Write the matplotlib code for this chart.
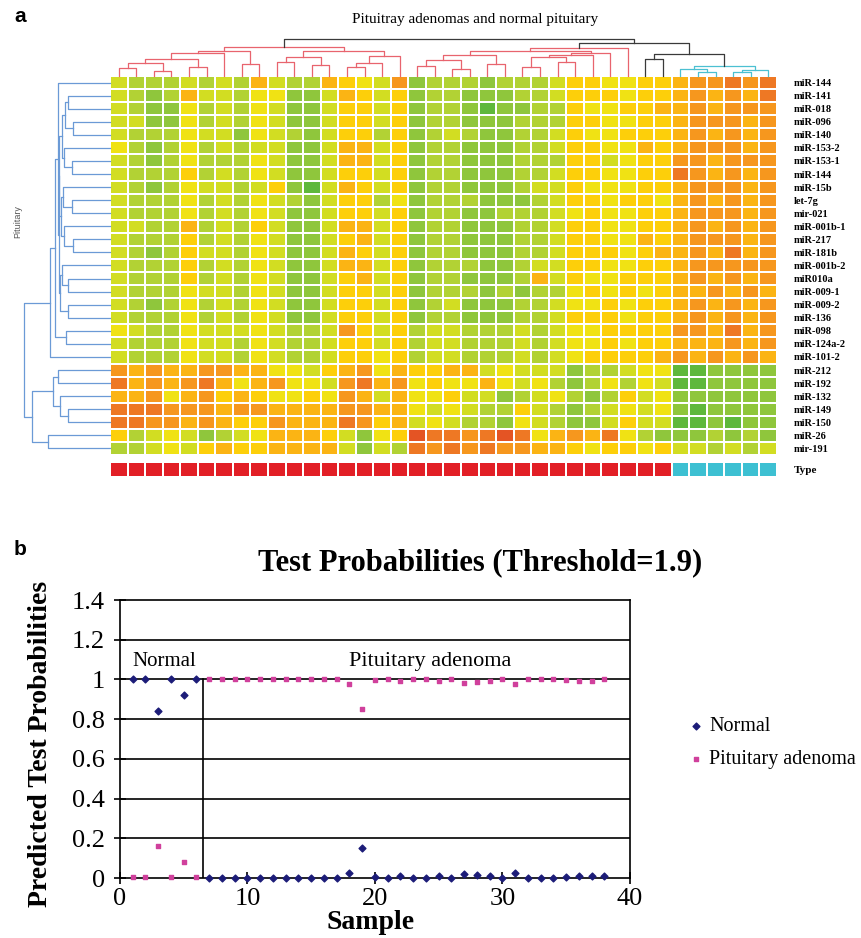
"""
Two-panel figure: miRNA heatmap with dendrograms (a) and
test probabilities scatter (b).
"""

import matplotlib
matplotlib.use("Agg")  # No display needed
import matplotlib.pyplot as plt
import numpy as np
from matplotlib.colors import ListedColormap

plt.rcParams["font.family"] = "serif"
plt.rcParams["font.serif"] = ["Liberation Serif", "DejaVu Serif"]

W, H = 862, 938

# Colors
HEAT_COLORS = ["#5fb83c", "#8fc63c", "#b2d234", "#d2dd22", "#f0e214",
               "#fdcf0a", "#fbb414", "#f6971e", "#ee7824", "#e45424"]
LINK_COLORS = {"r": "#e8646e", "k": "#3a3a3a", "c": "#4cc0d2", "b": "#6b9ad6"}
TYPE_COLORS = ["#e21f26", "#3dc0d2"]
NAVY = "#1c1c78"
PINK = "#d0409c"

# ---- panel a data ----
mirna_labels = [
    "miR-144", "miR-141", "miR-018", "miR-096", "miR-140", "miR-153-2",
    "miR-153-1", "miR-144", "miR-15b", "let-7g", "mir-021", "miR-001b-1",
    "miR-217", "miR-181b", "miR-001b-2", "miR010a", "miR-009-1",
    "miR-009-2", "miR-136", "miR-098", "miR-124a-2", "miR-101-2",
    "miR-212", "miR-192", "miR-132", "miR-149", "miR-150", "miR-26",
    "mir-191",
]

# expression level per cell, 0 = green ... 9 = red
heat_rows = [
    "3222323263 2265437122 2122235544 55677878",
    "3212633244 1136535122 1112235554 55676768",
    "3211423243 1135535122 1011225445 56676777",
    "3311423243 1135535122 1112225544 55677767",
    "3222433143 2135525123 2112235445 55676767",
    "4212423233 1136635122 1112235544 65677767",
    "3212422243 1136635122 1112225534 55776777",
    "3222523243 1135535122 1112235544 55876767",
    "3212433235 1036535122 1112335444 55677767",
    "3222423243 2135524122 2111235545 54676767",
    "3222423243 1135535122 1122234544 55677767",
    "3322623253 1136635122 1112235544 55676767",
    "3222523243 1135635122 1112235544 65677767",
    "3212533243 1136535122 1112235554 56676867",
    "3222523243 1136635122 2112335544 55677777",
    "3222523243 1135635122 1112635445 55676767",
    "3222433243 1135535122 2121224545 45667676",
    "3212423243 1135535123 1112234454 55676767",
    "3222423243 1135535122 1112235554 55676767",
    "4322433343 2237535233 2223234455 55776867",
    "3222433243 2235535233 2223234454 55666767",
    "3222433243 2235545233 2223234555 56767676",
    "7676677664 4356746556 6343331223 44001111",
    "8676786467 4437867454 4643421242 43001111",
    "6674675654 4547636445 3312342125 34111111",
    "8887776776 6667766434 3225321234 34101111",
    "8877676557 6668756343 2214321135 33001011",
    "5234312346 6653145988 7898467684 21112121",
    "2234356556 6663132878 7877665455 45332323",
]

# sample type: 0 = pituitary adenoma, 1 = normal pituitary
sample_type = [0] * 32 + [1] * 6

# column dendrogram: (left id, right id, height, color); new ids start at 38
col_links = [
    (0, 1, 8, "r"), (2, 3, 5, "r"), (38, 39, 13, "r"), (4, 5, 9, "r"),
    (40, 41, 17, "r"), (42, 6, 22, "r"), (7, 8, 12, "r"), (43, 44, 24, "r"),
    (9, 10, 14, "r"), (11, 12, 11, "r"), (46, 47, 18, "r"), (13, 14, 9, "r"),
    (49, 15, 13, "r"), (50, 16, 19, "r"), (48, 51, 24, "r"), (45, 52, 28, "r"),
    (17, 18, 10, "r"), (19, 20, 7, "r"), (54, 55, 16, "r"), (21, 22, 12, "r"),
    (56, 57, 20, "r"), (23, 24, 9, "r"), (25, 26, 14, "r"), (59, 60, 18, "r"),
    (61, 27, 20, "r"), (62, 28, 22, "r"), (58, 63, 24, "r"), (64, 29, 27, "r"),
    (30, 31, 17, "k"), (33, 34, 4, "c"), (32, 67, 7, "c"), (35, 36, 4, "c"),
    (69, 37, 6, "c"), (68, 70, 10, "c"), (66, 71, 21, "k"), (65, 72, 32, "k"),
    (53, 73, 36, "k"),
]

# row dendrogram: new ids start at 29
row_links = [
    (1, 2, 42), (3, 4, 37), (29, 30, 45), (6, 7, 38), (5, 32, 46),
    (31, 33, 48), (9, 10, 38), (8, 35, 47), (12, 13, 37), (11, 37, 46),
    (36, 38, 49), (34, 39, 50.5), (15, 16, 42), (14, 41, 48), (17, 18, 42),
    (42, 43, 50), (40, 44, 51), (0, 45, 52), (19, 20, 44), (46, 47, 55),
    (48, 21, 60), (22, 23, 52), (25, 26, 42), (24, 51, 50), (50, 52, 57),
    (27, 28, 62), (53, 54, 78), (49, 55, 86),
]

# ---- panel b data ----
samples = list(range(1, 39))
normal_prob = [1.0, 1.0, 0.84, 1.0, 0.92, 1.0,
               0, 0, 0, 0, 0, 0, 0, 0, 0, 0, 0,
               0.025, 0.15, 0.005, 0, 0.01, 0, 0, 0.01, 0, 0.02, 0.015,
               0.01, 0, 0.025, 0, 0, 0, 0.005, 0.01, 0.01, 0.01]
adenoma_prob = [0.005, 0.005, 0.16, 0.005, 0.08, 0.005,
                1, 1, 1, 1, 1, 1, 1, 1, 1, 1, 1,
                0.975, 0.85, 0.995, 1, 0.99, 1, 1, 0.99, 1, 0.98, 0.985,
                0.99, 1, 0.975, 1, 1, 1, 0.995, 0.99, 0.99, 1]
y_ticks = [0, 0.2, 0.4, 0.6, 0.8, 1.0, 1.2, 1.4]
y_tick_labels = ["0", "0.2", "0.4", "0.6", "0.8", "1", "1.2", "1.4"]
x_ticks = [0, 10, 20, 30, 40]


def rect(l, t, r, b):
    """Pixel box (left, top, right, bottom) -> figure fraction rect."""
    return [l / W, 1 - b / H, (r - l) / W, (b - t) / H]


def draw_links(ax, links, n_leaves, orient, default="b"):
    pos = {i: (i + 0.5, 0.0) for i in range(n_leaves)}
    for k, link in enumerate(links):
        a, b, h = link[0], link[1], link[2]
        color = LINK_COLORS[link[3] if len(link) > 3 else default]
        p1, h1 = pos[a]
        p2, h2 = pos[b]
        xs, ys = [p1, p1, p2, p2], [h1, h, h, h2]
        if orient == "top":
            ax.plot(xs, ys, color=color, lw=0.9, clip_on=False)
        else:
            ax.plot(ys, xs, color=color, lw=0.9, clip_on=False)
        pos[n_leaves + k] = ((p1 + p2) / 2, h)


fig = plt.figure(figsize=(W / 100, H / 100), dpi=100)

# ---- panel a ----
values = np.array([[int(c) for c in row.replace(" ", "")] for row in heat_rows])
n_rows, n_cols = values.shape

ax_h = fig.add_axes(rect(110, 76, 777, 455))
ax_h.pcolormesh(values, cmap=ListedColormap(HEAT_COLORS), vmin=-0.5, vmax=9.5,
                edgecolors="white", linewidth=1.3)
ax_h.set_xlim(0, n_cols)
ax_h.set_ylim(n_rows, 0)
ax_h.set_xticks([])
ax_h.yaxis.tick_right()
ax_h.set_yticks(np.arange(n_rows) + 0.5)
ax_h.set_yticklabels(mirna_labels, fontsize=7.5, fontweight="bold")
ax_h.tick_params(axis="y", length=0, pad=12)
for s in ax_h.spines.values():
    s.set_visible(False)

ax_t = fig.add_axes(rect(110, 462, 777, 477))
ax_t.pcolormesh(np.array([sample_type]), cmap=ListedColormap(TYPE_COLORS),
                vmin=-0.5, vmax=1.5, edgecolors="white", linewidth=1.3)
ax_t.set_xlim(0, n_cols)
ax_t.set_xticks([])
ax_t.yaxis.tick_right()
ax_t.set_yticks([0.5])
ax_t.set_yticklabels(["Type"], fontsize=8, fontweight="bold")
ax_t.tick_params(axis="y", length=0, pad=12)
for s in ax_t.spines.values():
    s.set_visible(False)

ax_top = fig.add_axes(rect(110, 39, 777, 76))
draw_links(ax_top, col_links, n_cols, "top")
ax_top.set_xlim(0, n_cols)
ax_top.set_ylim(0, col_links[-1][2])
ax_top.axis("off")

ax_left = fig.add_axes(rect(24, 76, 110, 455))
draw_links(ax_left, row_links, n_rows, "left")
ax_left.set_xlim(row_links[-1][2], 0)
ax_left.set_ylim(n_rows, 0)
ax_left.axis("off")

fig.text(14 / W, 1 - 16 / H, "a", family="Liberation Sans", fontsize=15,
         fontweight="bold", ha="left", va="center")
fig.text(475 / W, 1 - 20 / H, "Pituitray adenomas and normal pituitary",
         fontsize=11, ha="center", va="center")
fig.text(18 / W, 1 - 222 / H, "Pituitary", family="Liberation Sans",
         fontsize=6.5, color="#555555", rotation=90, ha="center", va="center")

# ---- panel b ----
ax_b = fig.add_axes(rect(120, 600, 630, 878))
ax_b.set_xlim(0, 40)
ax_b.set_ylim(0, 1.4)
for y in y_ticks[1:-1]:
    ax_b.axhline(y, color="black", lw=1.2, zorder=1)
ax_b.plot([6.5, 6.5], [0, 1.0], color="black", lw=1.2, zorder=1)
ax_b.scatter(samples, normal_prob, marker="D", s=12, color=NAVY, zorder=3,
             clip_on=False, label="Normal")
ax_b.scatter(samples, adenoma_prob, marker="s", s=11, color=PINK, zorder=3,
             clip_on=False, label="Pituitary adenoma")
ax_b.text(1, 1.09, "Normal", fontsize=15, ha="left", va="center")
ax_b.text(24.3, 1.09, "Pituitary adenoma", fontsize=16, ha="center",
          va="center")

ax_b.set_xticks(x_ticks)
ax_b.set_yticks(y_ticks)
ax_b.set_yticklabels(y_tick_labels)
ax_b.tick_params(direction="inout", length=8, width=1.2, labelsize=19,
                 colors="black")
ax_b.tick_params(axis="y", pad=7)
ax_b.tick_params(axis="x", pad=3)
for s in ax_b.spines.values():
    s.set_linewidth(1.2)

fig.text(371 / W, 1 - 922 / H, "Sample", fontsize=20, fontweight="bold",
         ha="center", va="center")
fig.text(41 / W, 1 - 744 / H, "Predicted Test Probabilities", fontsize=20,
         fontweight="bold", rotation=90, ha="center", va="center")

ax_b.legend(loc="center left", bbox_to_anchor=(680 / W, 1 - 743 / H),
            bbox_transform=fig.transFigure, frameon=False, fontsize=14.5,
            borderpad=0, handletextpad=0.35, labelspacing=0.7,
            handlelength=0.6)

fig.text(14 / W, 1 - 549 / H, "b", family="Liberation Sans", fontsize=15,
         fontweight="bold", ha="left", va="center")
fig.text(480 / W, 1 - 563 / H, "Test Probabilities (Threshold=1.9)",
         fontsize=22, fontweight="bold", ha="center", va="center")

fig.savefig("out.png", dpi=100, facecolor="white")
plt.close(fig)
